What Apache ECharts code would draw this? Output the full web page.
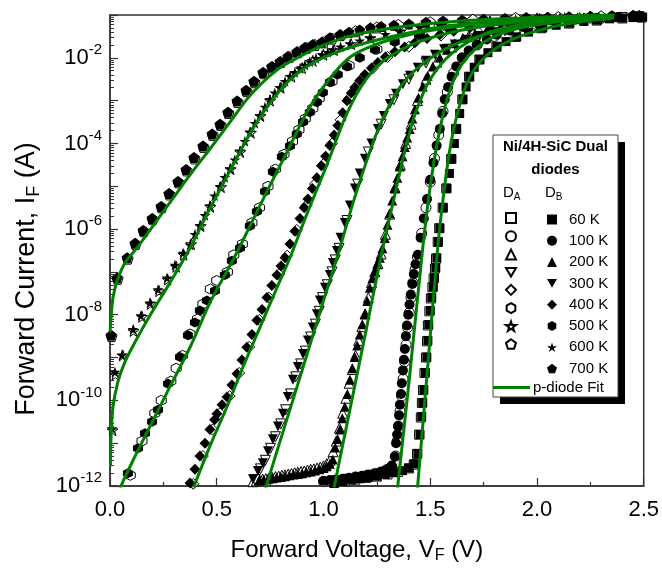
<!DOCTYPE html>
<html><head><meta charset="utf-8">
<script src="https://cdn.jsdelivr.net/npm/echarts@6/dist/echarts.min.js"></script>
<style>html,body{margin:0;padding:0;background:#fff}#c{width:662px;height:569px}</style>
</head><body><div id="c"></div><script>
// ---- data: [forward voltage (V), log10 forward current (A)] ----
const temps = ['60 K','100 K','200 K','300 K','400 K','500 K','600 K','700 K'];
const xTicks = [0, 0.5, 1.0, 1.5, 2.0, 2.5];
const yLabelExps = [-12, -10, -8, -6, -4, -2];

const B60 = [[1.05,-11.92],[1.09,-11.89],[1.13,-11.86],[1.17,-11.83],[1.21,-11.8],[1.25,-11.77],[1.29,-11.73],[1.33,-11.69],[1.37,-11.64],[1.40,-11.58],[1.425,-11.48],[1.442,-11.24],[1.452,-10.8],[1.46,-10.38],[1.465,-10.05],[1.47,-9.75],[1.477,-9.35],[1.484,-8.99],[1.489,-8.6],[1.493,-8.23],[1.5,-7.9],[1.507,-7.6],[1.514,-7.35],[1.52,-7.14],[1.526,-6.9],[1.531,-6.67],[1.538,-6.3],[1.545,-5.98],[1.561,-5.5],[1.578,-5.05],[1.59,-4.7],[1.601,-4.36],[1.613,-4.0],[1.624,-3.66],[1.638,-3.3],[1.653,-2.97],[1.668,-2.68],[1.685,-2.44],[1.706,-2.22],[1.732,-2.04],[1.77,-1.88],[1.812,-1.74],[1.855,-1.62],[1.905,-1.51],[1.96,-1.4],[2.027,-1.30],[2.09,-1.24],[2.154,-1.19],[2.22,-1.15],[2.28,-1.12],[2.34,-1.09],[2.4,-1.07],[2.45,-1.06],[2.495,-1.05]];
const A60 = [[1.05,-11.93],[1.1,-11.89],[1.15,-11.85],[1.2,-11.81],[1.25,-11.78],[1.3,-11.73],[1.35,-11.67],[1.4,-11.59],[1.423,-11.5],[1.438,-11.25],[1.448,-10.8],[1.456,-10.4],[1.461,-10.06],[1.466,-9.76],[1.473,-9.36],[1.48,-9.0],[1.485,-8.62],[1.489,-8.25],[1.496,-7.92],[1.503,-7.62],[1.51,-7.36],[1.516,-7.15],[1.522,-6.92],[1.527,-6.69],[1.535,-6.3],[1.542,-5.98],[1.558,-5.5],[1.575,-5.05],[1.598,-4.36],[1.621,-3.66],[1.65,-2.97],[1.682,-2.44],[1.73,-2.04],[1.81,-1.74],[1.9,-1.51],[2.02,-1.31],[2.15,-1.2],[2.28,-1.13],[2.4,-1.08],[2.49,-1.06]];

const B100 = [[1.00,-11.88],[1.03,-11.86],[1.06,-11.85],[1.09,-11.83],[1.12,-11.81],[1.15,-11.78],[1.18,-11.76],[1.21,-11.73],[1.24,-11.7],[1.27,-11.66],[1.30,-11.6],[1.32,-11.52],[1.334,-11.31],[1.34,-11.0],[1.345,-10.8],[1.349,-10.6],[1.354,-10.35],[1.358,-10.1],[1.363,-9.85],[1.367,-9.6],[1.372,-9.3],[1.377,-9.05],[1.381,-8.8],[1.386,-8.5],[1.391,-8.25],[1.397,-8.0],[1.403,-7.76],[1.409,-7.53],[1.416,-7.28],[1.423,-7.05],[1.431,-6.82],[1.442,-6.6],[1.455,-6.2],[1.47,-5.75],[1.485,-5.3],[1.5,-4.85],[1.515,-4.45],[1.53,-4.05],[1.545,-3.66],[1.556,-3.3],[1.568,-2.97],[1.584,-2.68],[1.6,-2.44],[1.622,-2.2],[1.648,-2.0],[1.68,-1.83],[1.718,-1.69],[1.765,-1.57],[1.812,-1.46],[1.87,-1.36],[1.934,-1.28],[2.01,-1.21],[2.09,-1.16],[2.18,-1.11],[2.28,-1.07],[2.38,-1.05],[2.48,-1.03]];
const A100 = [[1.0,-11.9],[1.05,-11.87],[1.1,-11.84],[1.15,-11.8],[1.2,-11.76],[1.25,-11.71],[1.29,-11.64],[1.32,-11.55],[1.338,-11.3],[1.345,-10.95],[1.352,-10.6],[1.359,-10.25],[1.366,-9.9],[1.373,-9.5],[1.38,-9.1],[1.387,-8.7],[1.394,-8.3],[1.402,-7.95],[1.41,-7.6],[1.419,-7.25],[1.429,-6.95],[1.44,-6.65],[1.46,-6.1],[1.48,-5.5],[1.5,-4.9],[1.52,-4.35],[1.54,-3.8],[1.56,-3.25],[1.58,-2.8],[1.61,-2.35],[1.65,-2.0],[1.72,-1.7],[1.8,-1.5],[1.9,-1.33],[2.0,-1.23],[2.15,-1.14],[2.3,-1.08],[2.48,-1.04]];

const B200 = [[0.70,-11.86],[0.72,-11.85],[0.74,-11.83],[0.76,-11.82],[0.78,-11.80],[0.80,-11.79],[0.82,-11.77],[0.84,-11.75],[0.86,-11.73],[0.88,-11.72],[0.90,-11.70],[0.92,-11.68],[0.94,-11.66],[0.96,-11.64],[0.98,-11.61],[1.00,-11.58],[1.015,-11.54],[1.03,-11.48],[1.044,-11.38],[1.055,-11.1],[1.066,-10.9],[1.077,-10.68],[1.088,-10.42],[1.1,-10.15],[1.112,-9.85],[1.124,-9.52],[1.135,-9.25],[1.147,-8.99],[1.158,-8.72],[1.17,-8.46],[1.182,-8.22],[1.194,-7.99],[1.205,-7.68],[1.217,-7.37],[1.229,-7.15],[1.241,-6.98],[1.252,-6.82],[1.264,-6.67],[1.276,-6.45],[1.287,-6.21],[1.3,-5.9],[1.311,-5.63],[1.322,-5.33],[1.334,-5.05],[1.346,-4.8],[1.358,-4.54],[1.37,-4.3],[1.381,-4.08],[1.392,-3.86],[1.404,-3.66],[1.416,-3.42],[1.428,-3.2],[1.445,-2.93],[1.465,-2.67],[1.488,-2.42],[1.512,-2.2],[1.545,-1.99],[1.578,-1.81],[1.615,-1.66],[1.653,-1.53],[1.71,-1.43],[1.765,-1.35],[1.83,-1.27],[1.905,-1.19],[2.0,-1.13],[2.09,-1.08],[2.19,-1.06],[2.29,-1.05],[2.39,-1.03],[2.48,-1.02]];
const A200 = [[0.67,-11.9],[0.685,-11.88],[0.70,-11.86],[0.715,-11.84],[0.73,-11.83],[0.745,-11.81],[0.76,-11.8],[0.775,-11.78],[0.79,-11.77],[0.805,-11.75],[0.82,-11.74],[0.835,-11.72],[0.85,-11.71],[0.865,-11.69],[0.88,-11.68],[0.895,-11.66],[0.91,-11.65],[0.925,-11.63],[0.94,-11.61],[0.955,-11.6],[0.97,-11.58],[0.985,-11.56],[1.0,-11.53],[1.015,-11.48],[1.03,-11.4],[1.045,-11.2],[1.06,-10.95],[1.075,-10.65],[1.09,-10.3],[1.105,-9.95],[1.12,-9.6],[1.135,-9.28],[1.15,-8.95],[1.165,-8.6],[1.18,-8.28],[1.195,-7.98],[1.21,-7.6],[1.225,-7.25],[1.24,-7.0],[1.255,-6.8],[1.27,-6.58],[1.29,-6.12],[1.31,-5.65],[1.335,-5.03],[1.36,-4.5],[1.385,-4.0],[1.41,-3.55],[1.44,-3.0],[1.48,-2.5],[1.53,-2.1],[1.6,-1.75],[1.68,-1.5],[1.78,-1.33],[1.9,-1.2],[2.05,-1.11],[2.2,-1.06],[2.35,-1.04],[2.48,-1.02]];

const B300 = [[0.67,-11.84],[0.693,-11.65],[0.716,-11.47],[0.74,-11.19],[0.763,-10.91],[0.787,-10.61],[0.81,-10.31],[0.833,-9.92],[0.857,-9.52],[0.88,-9.22],[0.904,-8.92],[0.927,-8.60],[0.95,-8.30],[0.969,-7.99],[0.983,-7.67],[1.007,-7.37],[1.03,-7.07],[1.044,-6.79],[1.063,-6.51],[1.08,-6.2],[1.1,-5.86],[1.124,-5.45],[1.147,-5.05],[1.17,-4.7],[1.194,-4.36],[1.225,-4.0],[1.255,-3.66],[1.283,-3.36],[1.311,-3.08],[1.34,-2.84],[1.372,-2.62],[1.405,-2.42],[1.442,-2.23],[1.48,-2.07],[1.522,-1.93],[1.565,-1.8],[1.615,-1.69],[1.67,-1.58],[1.732,-1.49],[1.8,-1.4],[1.873,-1.32],[1.95,-1.25],[2.036,-1.19],[2.14,-1.13],[2.247,-1.09],[2.36,-1.06],[2.481,-1.03]];
const A300 = [[0.68,-11.85],[0.705,-11.6],[0.728,-11.4],[0.752,-11.12],[0.775,-10.85],[0.8,-10.55],[0.823,-10.22],[0.846,-9.85],[0.87,-9.45],[0.893,-9.15],[0.915,-8.85],[0.94,-8.52],[0.962,-8.22],[0.98,-7.92],[0.995,-7.6],[1.018,-7.3],[1.04,-7.0],[1.055,-6.72],[1.073,-6.45],[1.11,-5.8],[1.16,-4.95],[1.21,-4.2],[1.27,-3.55],[1.33,-2.98],[1.4,-2.5],[1.48,-2.12],[1.58,-1.8],[1.7,-1.56],[1.85,-1.37],[2.0,-1.23],[2.2,-1.12],[2.4,-1.06]];

const B400 = [[0.375,-11.93],[0.398,-11.61],[0.421,-11.30],[0.445,-11.0],[0.468,-10.68],[0.49,-10.45],[0.501,-10.31],[0.525,-10.1],[0.548,-9.92],[0.571,-9.64],[0.595,-9.38],[0.618,-9.06],[0.641,-8.76],[0.665,-8.46],[0.688,-8.13],[0.712,-7.88],[0.735,-7.60],[0.758,-7.32],[0.782,-7.07],[0.801,-6.86],[0.82,-6.67],[0.843,-6.35],[0.866,-6.05],[0.89,-5.75],[0.91,-5.5],[0.927,-5.3],[0.948,-5.05],[0.969,-4.8],[0.99,-4.52],[1.01,-4.3],[1.03,-4.05],[1.05,-3.8],[1.067,-3.58],[1.09,-3.28],[1.11,-3.0],[1.13,-2.82],[1.147,-2.69],[1.17,-2.53],[1.194,-2.39],[1.225,-2.24],[1.255,-2.11],[1.29,-1.98],[1.334,-1.86],[1.38,-1.75],[1.428,-1.65],[1.485,-1.55],[1.545,-1.46],[1.61,-1.38],[1.685,-1.30],[1.78,-1.24],[1.873,-1.19],[1.99,-1.14],[2.107,-1.09],[2.22,-1.07],[2.341,-1.05],[2.481,-1.02]];
const A400 = [[0.39,-11.95],[0.435,-11.3],[0.48,-10.68],[0.515,-10.3],[0.56,-9.9],[0.605,-9.36],[0.652,-8.75],[0.70,-8.12],[0.745,-7.6],[0.792,-7.05],[0.83,-6.62],[0.875,-6.02],[0.92,-5.45],[0.96,-4.95],[1.0,-4.48],[1.04,-4.0],[1.08,-3.45],[1.12,-2.95],[1.17,-2.58],[1.23,-2.25],[1.3,-1.98],[1.4,-1.74],[1.55,-1.48],[1.75,-1.27],[2.0,-1.14],[2.25,-1.07],[2.48,-1.03]];

const B500 = [[0.084,-11.70],[0.131,-11.12],[0.164,-10.77],[0.197,-10.5],[0.225,-10.22],[0.272,-9.61],[0.328,-8.99],[0.365,-8.48],[0.398,-8.18],[0.421,-7.90],[0.454,-7.67],[0.492,-7.44],[0.538,-7.07],[0.571,-6.74],[0.609,-6.44],[0.655,-5.93],[0.688,-5.59],[0.726,-5.12],[0.763,-4.66],[0.805,-4.31],[0.843,-4.06],[0.875,-3.78],[0.904,-3.50],[0.936,-3.27],[0.969,-3.04],[0.997,-2.81],[1.03,-2.57],[1.067,-2.39],[1.11,-2.20],[1.17,-2.0],[1.241,-1.81],[1.334,-1.63],[1.451,-1.46],[1.592,-1.32],[1.779,-1.19],[2.013,-1.09],[2.247,-1.05],[2.481,-1.02]];
const A500 = [[0.095,-11.75],[0.15,-10.95],[0.21,-10.3],[0.24,-10.0],[0.285,-9.55],[0.31,-9.25],[0.34,-8.95],[0.375,-8.45],[0.41,-8.1],[0.435,-7.75],[0.47,-7.4],[0.5,-7.2],[0.55,-7.0],[0.58,-6.6],[0.62,-6.35],[0.665,-5.85],[0.70,-5.5],[0.74,-5.0],[0.775,-4.6],[0.815,-4.25],[0.855,-3.95],[0.885,-3.68],[0.915,-3.42],[0.95,-3.18],[0.98,-2.95],[1.04,-2.55],[1.12,-2.18],[1.25,-1.8],[1.45,-1.47],[1.7,-1.24],[2.0,-1.11],[2.3,-1.05],[2.48,-1.03]];

const B600 = [[0.01,-10.66],[0.023,-9.34],[0.056,-8.94],[0.108,-8.34],[0.145,-8.02],[0.187,-7.72],[0.225,-7.41],[0.267,-7.14],[0.304,-6.84],[0.342,-6.56],[0.375,-6.37],[0.398,-6.12],[0.421,-5.91],[0.445,-5.68],[0.468,-5.45],[0.49,-5.22],[0.515,-5.0],[0.538,-4.79],[0.562,-4.59],[0.585,-4.38],[0.609,-4.17],[0.632,-3.95],[0.655,-3.73],[0.679,-3.53],[0.702,-3.34],[0.726,-3.15],[0.749,-2.97],[0.772,-2.82],[0.796,-2.69],[0.82,-2.55],[0.843,-2.43],[0.866,-2.34],[0.89,-2.25],[0.913,-2.17],[0.936,-2.09],[0.965,-2.01],[0.993,-1.93],[1.02,-1.87],[1.044,-1.81],[1.08,-1.74],[1.124,-1.67],[1.17,-1.60],[1.217,-1.53],[1.29,-1.45],[1.358,-1.37],[1.45,-1.29],[1.545,-1.23],[1.66,-1.18],[1.779,-1.14],[1.9,-1.10],[2.013,-1.07],[2.13,-1.05],[2.247,-1.03],[2.36,-1.02],[2.481,-1.01]];
const A600 = [[0.012,-10.7],[0.025,-9.4],[0.06,-8.95],[0.11,-8.38],[0.15,-8.05],[0.19,-7.75],[0.23,-7.45],[0.27,-7.18],[0.31,-6.88],[0.345,-6.6],[0.38,-6.35],[0.425,-5.93],[0.47,-5.48],[0.52,-5.02],[0.565,-4.6],[0.61,-4.2],[0.66,-3.75],[0.705,-3.36],[0.75,-3.0],[0.8,-2.7],[0.85,-2.44],[0.9,-2.24],[0.95,-2.07],[1.0,-1.93],[1.05,-1.82],[1.13,-1.68],[1.22,-1.54],[1.36,-1.39],[1.55,-1.24],[1.78,-1.15],[2.0,-1.08],[2.25,-1.04],[2.48,-1.02]];

const B700 = [[0.005,-8.48],[0.033,-7.14],[0.08,-6.67],[0.117,-6.33],[0.155,-6.03],[0.197,-5.75],[0.239,-5.47],[0.276,-5.17],[0.318,-4.89],[0.356,-4.61],[0.393,-4.33],[0.435,-4.06],[0.478,-3.78],[0.515,-3.55],[0.552,-3.27],[0.595,-3.01],[0.637,-2.76],[0.674,-2.55],[0.716,-2.34],[0.758,-2.20],[0.796,-2.09],[0.833,-1.97],[0.875,-1.86],[0.913,-1.76],[0.950,-1.69],[0.993,-1.63],[1.030,-1.53],[1.077,-1.46],[1.12,-1.40],[1.17,-1.35],[1.22,-1.30],[1.27,-1.27],[1.33,-1.24],[1.40,-1.21],[1.48,-1.17],[1.56,-1.14],[1.65,-1.12],[1.75,-1.10],[1.85,-1.08],[1.95,-1.06],[2.05,-1.05],[2.15,-1.04],[2.25,-1.03],[2.35,-1.02],[2.45,-1.01]];
const A700 = [[0.007,-8.5],[0.036,-7.16],[0.083,-6.69],[0.12,-6.35],[0.158,-6.05],[0.2,-5.77],[0.242,-5.49],[0.279,-5.19],[0.321,-4.91],[0.359,-4.63],[0.396,-4.35],[0.438,-4.08],[0.481,-3.8],[0.518,-3.57],[0.555,-3.29],[0.598,-3.03],[0.64,-2.78],[0.677,-2.57],[0.72,-2.36],[0.76,-2.22],[0.8,-2.1],[0.84,-1.98],[0.88,-1.87],[0.92,-1.77],[0.96,-1.7],[1.0,-1.64],[1.04,-1.55],[1.08,-1.47],[1.15,-1.38],[1.25,-1.29],[1.35,-1.23],[1.5,-1.17],[1.7,-1.11],[1.9,-1.07],[2.1,-1.05],[2.3,-1.03],[2.45,-1.02]];

// p-diode fits
const F60 = [[1.438,-12.2],[1.442,-11.95],[1.49,-9.1],[1.535,-6.44],[1.56,-5.3],[1.59,-4.2],[1.62,-3.45],[1.66,-2.75],[1.71,-2.25],[1.78,-1.88],[1.88,-1.58],[2.0,-1.37],[2.15,-1.2],[2.36,-1.07]];
const F100 = [[1.345,-12.2],[1.349,-11.95],[1.4,-9.6],[1.465,-6.44],[1.5,-5.0],[1.54,-3.8],[1.58,-2.95],[1.63,-2.3],[1.7,-1.85],[1.8,-1.5],[1.95,-1.27],[2.15,-1.12],[2.36,-1.04]];
const F200 = [[1.045,-12.2],[1.053,-11.95],[1.1,-10.8],[1.2,-8.35],[1.278,-6.44],[1.334,-5.2],[1.38,-4.2],[1.43,-3.3],[1.5,-2.5],[1.6,-1.9],[1.75,-1.45],[1.95,-1.2],[2.15,-1.08],[2.36,-1.02]];
const F300 = [[0.72,-12.2],[0.735,-11.95],[0.8,-10.9],[0.9,-9.3],[1.0,-7.67],[1.077,-6.44],[1.15,-5.2],[1.25,-3.75],[1.35,-2.75],[1.45,-2.2],[1.6,-1.72],[1.8,-1.4],[2.0,-1.22],[2.2,-1.1],[2.36,-1.04]];
const F400 = [[0.38,-12.2],[0.398,-11.95],[0.468,-11.07],[0.548,-10.15],[0.623,-9.22],[0.702,-8.30],[0.782,-7.37],[0.843,-6.67],[0.922,-5.65],[1.016,-4.5],[1.11,-3.3],[1.2,-2.5],[1.3,-2.0],[1.45,-1.62],[1.65,-1.35],[1.9,-1.17],[2.15,-1.07],[2.36,-1.02]];
const F500 = [[0.04,-12.2],[0.056,-11.95],[0.117,-11.31],[0.187,-10.61],[0.281,-9.68],[0.375,-8.76],[0.468,-7.72],[0.562,-6.85],[0.609,-6.40],[0.735,-5.12],[0.829,-4.2],[0.922,-3.27],[1.016,-2.57],[1.11,-2.04],[1.2,-1.78],[1.33,-1.55],[1.5,-1.36],[1.7,-1.22],[1.9,-1.12],[2.1,-1.06],[2.36,-1.01]];
const F600 = [[0.002,-11.54],[0.005,-10.84],[0.014,-10.15],[0.037,-9.57],[0.07,-9.1],[0.117,-8.64],[0.187,-8.02],[0.281,-7.25],[0.375,-6.44],[0.468,-5.52],[0.562,-4.64],[0.655,-3.78],[0.749,-3.06],[0.843,-2.51],[0.936,-2.16],[1.03,-1.93],[1.17,-1.69],[1.358,-1.46],[1.59,-1.25],[1.826,-1.14],[2.107,-1.05],[2.364,-1.0]];
const F700 = [[0.0,-8.41],[0.005,-8.06],[0.014,-7.6],[0.033,-7.21],[0.07,-6.79],[0.126,-6.44],[0.211,-5.86],[0.295,-5.28],[0.38,-4.7],[0.468,-4.13],[0.555,-3.55],[0.641,-2.97],[0.716,-2.57],[0.796,-2.23],[0.89,-1.97],[0.983,-1.74],[1.11,-1.51],[1.23,-1.38],[1.358,-1.28],[1.5,-1.2],[1.639,-1.14],[1.78,-1.1],[1.92,-1.07],[2.06,-1.04],[2.2,-1.02],[2.36,-1.0]];

const dataA = [A60, A100, A200, A300, A400, A500, A600, A700];
const dataB = [B60, B100, B200, B300, B400, B500, B600, B700];
const fits = [F60, F100, F200, F300, F400, F500, F600, F700];

// ---- styling ----
const FONT = '"Liberation Sans", Arial, sans-serif';
const GREEN = '#008000';
const symbols = [
  'rect', 'circle', 'triangle',
  'path://M0,0 L100,0 L50,86.6 Z',
  'diamond',
  'path://M50,0 L93.3,25 L93.3,75 L50,100 L6.7,75 L6.7,25 Z',
  'path://M50,0 L61.2,34.5 L97.6,34.5 L68.2,55.9 L79.4,90.5 L50,69.1 L20.6,90.5 L31.8,55.9 L2.4,34.5 L38.8,34.5 Z',
  'path://M50,0 L97.6,34.5 L79.4,90.5 L20.6,90.5 L2.4,34.5 Z'
];
const symSize = [9, 10, 10, 10, 11, 10, 11, 11];

const minorY = [];
for (let n = -12; n < -1; n++) for (let k = 2; k <= 9; k++) minorY.push(n + Math.log10(k));

const series = [];
temps.forEach((t, i) => {
  series.push({
    type: 'scatter', name: t + ' A', data: dataA[i], symbol: symbols[i], symbolSize: symSize[i],
    itemStyle: {color: '#fff', borderColor: '#000', borderWidth: 1, opacity: 1}, z: 2,
    emphasis: {disabled: true}, silent: true
  });
});
temps.forEach((t, i) => {
  series.push({
    type: 'scatter', name: t, data: dataB[i], symbol: symbols[i], symbolSize: symSize[i],
    itemStyle: {color: '#000', opacity: 1}, z: 3, emphasis: {disabled: true}, silent: true
  });
});
fits.forEach((f) => {
  series.push({
    type: 'line', name: 'p-diode Fit', data: f, symbol: 'none', showSymbol: false,
    smooth: 0.3, color: GREEN,
    lineStyle: {color: GREEN, width: 3}, z: 4, emphasis: {disabled: true}, silent: true
  });
});

const legendCommon = {
  orient: 'vertical', itemWidth: 10, itemHeight: 10, itemGap: 6.3, selectedMode: false, z: 12,
  textStyle: {fontSize: 15, color: '#000', fontFamily: FONT, padding: [0, 0, 0, 7]},
  inactiveColor: '#000'
};

const option = {
  animation: false,
  backgroundColor: '#fff',
  textStyle: {fontFamily: FONT},
  grid: {left: 110, right: 18, top: 15, bottom: 79, show: true, borderColor: '#333', borderWidth: 1.5, backgroundColor: 'transparent'},
  xAxis: {
    type: 'value', min: 0, max: 2.5, interval: 0.5,
    axisLine: {lineStyle: {color: '#333', width: 1.5}},
    axisTick: {inside: true, length: 8, lineStyle: {color: '#333', width: 1.2}},
    minorTick: {show: true, splitNumber: 2, length: 4, lineStyle: {color: '#333', width: 1.2}},
    splitLine: {show: false},
    axisLabel: {fontSize: 22, color: '#000', margin: 13, formatter: v => v.toFixed(1)},
    name: '{n|Forward Voltage, V}{sub|F}{n| (V)}', nameLocation: 'middle', nameGap: 50,
    nameTextStyle: {color: '#000', fontSize: 24, padding: [0, 40, 0, 0],
      rich: {n: {fontSize: 24, color: '#000', fontFamily: FONT}, sub: {fontSize: 16, color: '#000', fontFamily: FONT, padding: [12, 0, 0, 0]}}}
  },
  yAxis: [{
    type: 'value', min: -12, max: -1, interval: 1,
    axisLine: {lineStyle: {color: '#333', width: 1.5}},
    axisTick: {inside: true, length: 8, lineStyle: {color: '#333', width: 1.2}},
    splitLine: {show: false},
    axisLabel: {margin: 8, color: '#000',
      formatter: v => (yLabelExps.indexOf(Math.round(v)) >= 0 ? '{b|10}{s|' + Math.round(v) + '}' : ''),
      rich: {b: {fontSize: 22, color: '#000', fontFamily: FONT}, s: {fontSize: 15, color: '#000', fontFamily: FONT, padding: [0, 0, 16, 0]}}}
  }, {
    type: 'value', min: -12, max: -1, position: 'left',
    axisLine: {show: false}, axisLabel: {show: false}, splitLine: {show: false},
    axisTick: {show: true, inside: true, length: 4, customValues: minorY, lineStyle: {color: '#333', width: 1}}
  }],
  legend: [
    Object.assign({}, legendCommon, {left: 500, top: 207, data: temps.map(t => t + ' A'), formatter: () => ''}),
    Object.assign({}, legendCommon, {left: 542, top: 207, data: temps.slice()}),
    Object.assign({}, legendCommon, {left: 488, top: 375, itemWidth: 37, itemHeight: 3,
      textStyle: {fontSize: 15, color: '#000', fontFamily: FONT, padding: [0, 0, 0, -2]},
      data: [{name: 'p-diode Fit', icon: 'rect'}]})
  ],
  graphic: [
    {type: 'rect', z: 8, shape: {x: 500, y: 142, width: 125, height: 262}, style: {fill: '#000'}},
    {type: 'rect', z: 9, shape: {x: 493, y: 135, width: 125, height: 262}, style: {fill: '#fff', stroke: '#444', lineWidth: 1}},
    {type: 'text', z: 11, x: 555.5, y: 147, style: {text: 'Ni/4H-SiC Dual', font: 'bold 15px ' + FONT, fill: '#000', textAlign: 'center', textVerticalAlign: 'middle', align: 'center', verticalAlign: 'middle'}},
    {type: 'text', z: 11, x: 555.5, y: 170, style: {text: 'diodes', font: 'bold 15px ' + FONT, fill: '#000', textAlign: 'center', textVerticalAlign: 'middle', align: 'center', verticalAlign: 'middle'}},
    {type: 'text', z: 11, x: 503, y: 193, style: {text: '{d|D}{s|A}', fill: '#000', textVerticalAlign: 'middle', verticalAlign: 'middle',
      rich: {d: {fontSize: 15, fontFamily: FONT, fill: '#000'}, s: {fontSize: 10, fontFamily: FONT, fill: '#000', padding: [9, 0, 0, 0]}}}},
    {type: 'text', z: 11, x: 545, y: 193, style: {text: '{d|D}{s|B}', fill: '#000', textVerticalAlign: 'middle', verticalAlign: 'middle',
      rich: {d: {fontSize: 15, fontFamily: FONT, fill: '#000'}, s: {fontSize: 10, fontFamily: FONT, fill: '#000', padding: [9, 0, 0, 0]}}}},
    {type: 'text', z: 11, x: 27, y: 279, rotation: Math.PI / 2, style: {text: '{n|Forward Current, I}{sub|F}{n| (A)}', fill: '#000',
      textAlign: 'center', textVerticalAlign: 'middle', align: 'center', verticalAlign: 'middle',
      rich: {n: {fontSize: 27, fontFamily: FONT, fill: '#000'}, sub: {fontSize: 18, fontFamily: FONT, fill: '#000', padding: [14, 0, 0, 0]}}}}
  ],
  series: series
};

const chart = echarts.init(document.getElementById('c'), null, {renderer: 'canvas'});
chart.setOption(option);
</script></body></html>
